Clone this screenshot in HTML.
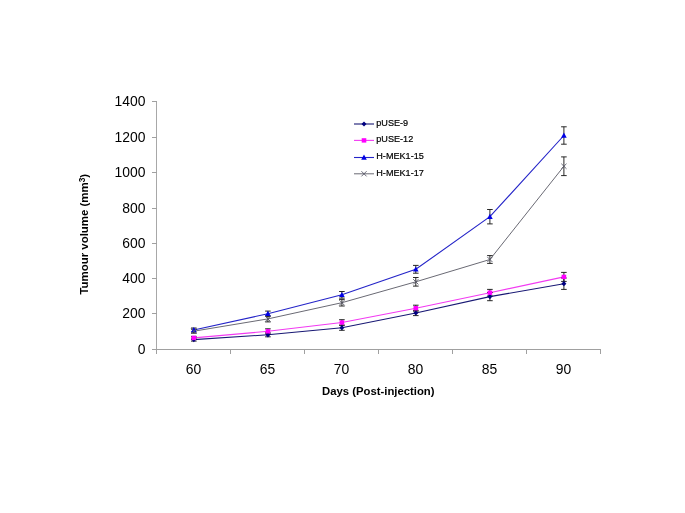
<!DOCTYPE html><html><head><meta charset="utf-8"><style>html,body{margin:0;padding:0;background:#fff;overflow:hidden}svg{display:block;will-change:transform}text{font-family:"Liberation Sans",sans-serif}</style></head><body>
<svg width="685" height="513" viewBox="0 0 685 513">
<rect width="685" height="513" fill="#fff"/>
<g stroke="#a0a0a0" stroke-width="1" fill="none" shape-rendering="crispEdges">
<line x1="156.5" y1="101" x2="156.5" y2="350" stroke="#a8a8a8"/>
<line x1="152" y1="349.5" x2="601" y2="349.5"/>
<line x1="152" y1="101.5" x2="157" y2="101.5"/>
<line x1="152" y1="137.5" x2="157" y2="137.5"/>
<line x1="152" y1="172.5" x2="157" y2="172.5"/>
<line x1="152" y1="208.5" x2="157" y2="208.5"/>
<line x1="152" y1="243.5" x2="157" y2="243.5"/>
<line x1="152" y1="278.5" x2="157" y2="278.5"/>
<line x1="152" y1="313.5" x2="157" y2="313.5"/>
<line x1="156.5" y1="349" x2="156.5" y2="353.6"/>
<line x1="230.5" y1="349" x2="230.5" y2="353.6"/>
<line x1="304.5" y1="349" x2="304.5" y2="353.6"/>
<line x1="378.5" y1="349" x2="378.5" y2="353.6"/>
<line x1="452.5" y1="349" x2="452.5" y2="353.6"/>
<line x1="526.5" y1="349" x2="526.5" y2="353.6"/>
<line x1="600.5" y1="349" x2="600.5" y2="353.6"/>
</g>
<text x="145.5" y="106.2" font-size="13.9" text-anchor="end" fill="#000">1400</text>
<text x="145.5" y="142.2" font-size="13.9" text-anchor="end" fill="#000">1200</text>
<text x="145.5" y="177.2" font-size="13.9" text-anchor="end" fill="#000">1000</text>
<text x="145.5" y="213.2" font-size="13.9" text-anchor="end" fill="#000">800</text>
<text x="145.5" y="248.2" font-size="13.9" text-anchor="end" fill="#000">600</text>
<text x="145.5" y="283.2" font-size="13.9" text-anchor="end" fill="#000">400</text>
<text x="145.5" y="318.2" font-size="13.9" text-anchor="end" fill="#000">200</text>
<text x="145.5" y="354.2" font-size="13.9" text-anchor="end" fill="#000">0</text>
<text x="193.5" y="373.5" font-size="13.9" text-anchor="middle" fill="#000">60</text>
<text x="267.5" y="373.5" font-size="13.9" text-anchor="middle" fill="#000">65</text>
<text x="341.5" y="373.5" font-size="13.9" text-anchor="middle" fill="#000">70</text>
<text x="415.5" y="373.5" font-size="13.9" text-anchor="middle" fill="#000">80</text>
<text x="489.5" y="373.5" font-size="13.9" text-anchor="middle" fill="#000">85</text>
<text x="563.5" y="373.5" font-size="13.9" text-anchor="middle" fill="#000">90</text>
<text x="378.3" y="394.7" font-size="11.3" font-weight="bold" text-anchor="middle" fill="#000">Days (Post-injection)</text>
<text transform="translate(87.75,294.6) rotate(-90)" font-size="11.45" font-weight="bold" text-anchor="start" fill="#000">Tumour volume (mm<tspan font-size="8.4" dy="-3.0" dx="0">3</tspan><tspan dy="3.0" dx="-0.1">)</tspan></text>
<polyline points="193.8,339.6 267.9,334.8 341.9,327.7 415.8,313.0 489.9,296.6 563.9,283.7" fill="none" stroke="#181874" stroke-width="1.1"/>
<polyline points="193.8,337.9 267.9,331.3 341.9,322.5 415.8,308.2 489.9,292.7 563.9,276.9" fill="none" stroke="#f23af2" stroke-width="1.1"/>
<polyline points="193.8,330.0 267.9,313.7 341.9,294.8 415.8,269.3 489.9,216.7 563.9,135.5" fill="none" stroke="#2424c8" stroke-width="1.1"/>
<polyline points="193.8,331.2 267.9,318.9 341.9,302.7 415.8,281.8 489.9,259.5 563.9,166.25" fill="none" stroke="#6a6a74" stroke-width="1.0"/>
<g stroke="#1c1c1c" stroke-width="0.95" fill="none">
<path d="M193.8 338.1V341.1M191.0 338.1H196.60000000000002M191.0 341.1H196.60000000000002"/>
<path d="M267.9 332.8V336.8M265.09999999999997 332.8H270.7M265.09999999999997 336.8H270.7"/>
<path d="M341.9 325.1V330.3M339.09999999999997 325.1H344.7M339.09999999999997 330.3H344.7"/>
<path d="M415.8 310.4V315.6M413.0 310.4H418.6M413.0 315.6H418.6"/>
<path d="M489.9 292.5V300.7M487.09999999999997 292.5H492.7M487.09999999999997 300.7H492.7"/>
<path d="M563.9 278.0V289.4M561.1 278.0H566.6999999999999M561.1 289.4H566.6999999999999"/>
</g>
<g stroke="#1c1c1c" stroke-width="0.95" fill="none">
<path d="M193.8 336.4V339.4M191.0 336.4H196.60000000000002M191.0 339.4H196.60000000000002"/>
<path d="M267.9 328.8V333.8M265.09999999999997 328.8H270.7M265.09999999999997 333.8H270.7"/>
<path d="M341.9 319.7V325.3M339.09999999999997 319.7H344.7M339.09999999999997 325.3H344.7"/>
<path d="M415.8 305.2V311.2M413.0 305.2H418.6M413.0 311.2H418.6"/>
<path d="M489.9 289.4V296.0M487.09999999999997 289.4H492.7M487.09999999999997 296.0H492.7"/>
<path d="M563.9 272.4V281.4M561.1 272.4H566.6999999999999M561.1 281.4H566.6999999999999"/>
</g>
<g stroke="#1c1c1c" stroke-width="0.95" fill="none">
<path d="M193.8 328.0V332.0M191.0 328.0H196.60000000000002M191.0 332.0H196.60000000000002"/>
<path d="M267.9 311.1V316.3M265.09999999999997 311.1H270.7M265.09999999999997 316.3H270.7"/>
<path d="M341.9 291.5V298.1M339.09999999999997 291.5H344.7M339.09999999999997 298.1H344.7"/>
<path d="M415.8 265.4V273.2M413.0 265.4H418.6M413.0 273.2H418.6"/>
<path d="M489.9 209.5V223.9M487.09999999999997 209.5H492.7M487.09999999999997 223.9H492.7"/>
<path d="M563.9 126.8V144.2M561.1 126.8H566.6999999999999M561.1 144.2H566.6999999999999"/>
</g>
<g stroke="#1c1c1c" stroke-width="0.95" fill="none">
<path d="M193.8 329.2V333.2M191.0 329.2H196.60000000000002M191.0 333.2H196.60000000000002"/>
<path d="M267.9 315.9V321.9M265.09999999999997 315.9H270.7M265.09999999999997 321.9H270.7"/>
<path d="M341.9 299.4V306.0M339.09999999999997 299.4H344.7M339.09999999999997 306.0H344.7"/>
<path d="M415.8 277.5V286.1M413.0 277.5H418.6M413.0 286.1H418.6"/>
<path d="M489.9 255.6V263.4M487.09999999999997 255.6H492.7M487.09999999999997 263.4H492.7"/>
<path d="M563.9 156.9V175.6M561.1 156.9H566.6999999999999M561.1 175.6H566.6999999999999"/>
</g>
<path d="M193.8 337.0L196.3 339.6L193.8 342.2L191.3 339.6Z" fill="#000080"/>
<path d="M267.9 332.2L270.4 334.8L267.9 337.4L265.4 334.8Z" fill="#000080"/>
<path d="M341.9 325.1L344.4 327.7L341.9 330.3L339.4 327.7Z" fill="#000080"/>
<path d="M415.8 310.4L418.3 313.0L415.8 315.6L413.3 313.0Z" fill="#000080"/>
<path d="M489.9 294.0L492.4 296.6L489.9 299.2L487.4 296.6Z" fill="#000080"/>
<path d="M563.9 281.1L566.4 283.7L563.9 286.3L561.4 283.7Z" fill="#000080"/>
<rect x="191.5" y="335.7" width="4.6" height="4.4" fill="#ff00ff"/>
<rect x="265.6" y="329.1" width="4.6" height="4.4" fill="#ff00ff"/>
<rect x="339.6" y="320.3" width="4.6" height="4.4" fill="#ff00ff"/>
<rect x="413.5" y="306.0" width="4.6" height="4.4" fill="#ff00ff"/>
<rect x="487.6" y="290.5" width="4.6" height="4.4" fill="#ff00ff"/>
<rect x="561.6" y="274.7" width="4.6" height="4.4" fill="#ff00ff"/>
<path d="M193.8 327.1L196.6 332.3L191.0 332.3Z" fill="#0000e6"/>
<path d="M267.9 310.8L270.7 316.0L265.1 316.0Z" fill="#0000e6"/>
<path d="M341.9 291.9L344.7 297.1L339.1 297.1Z" fill="#0000e6"/>
<path d="M415.8 266.4L418.6 271.6L413.0 271.6Z" fill="#0000e6"/>
<path d="M489.9 213.8L492.7 219.0L487.1 219.0Z" fill="#0000e6"/>
<path d="M563.9 132.6L566.7 137.8L561.1 137.8Z" fill="#0000e6"/>
<path d="M191.2 328.6L196.4 333.8M191.2 333.8L196.4 328.6" stroke="#5a5a6a" stroke-width="0.9" fill="none"/>
<path d="M265.3 316.3L270.5 321.5M265.3 321.5L270.5 316.3" stroke="#5a5a6a" stroke-width="0.9" fill="none"/>
<path d="M339.3 300.1L344.5 305.3M339.3 305.3L344.5 300.1" stroke="#5a5a6a" stroke-width="0.9" fill="none"/>
<path d="M413.2 279.2L418.4 284.4M413.2 284.4L418.4 279.2" stroke="#5a5a6a" stroke-width="0.9" fill="none"/>
<path d="M487.3 256.9L492.5 262.1M487.3 262.1L492.5 256.9" stroke="#5a5a6a" stroke-width="0.9" fill="none"/>
<path d="M561.3 163.7L566.5 168.8M561.3 168.8L566.5 163.7" stroke="#5a5a6a" stroke-width="0.9" fill="none"/>
<line x1="354" y1="124.0" x2="374" y2="124.0" stroke="#181874" stroke-width="1.1"/>
<path d="M364 121.4L366.5 124.0L364 126.6L361.5 124.0Z" fill="#000080"/>
<text x="376.3" y="125.7" font-size="9.1" fill="#000" stroke="#000" stroke-width="0.2">pUSE-9</text>
<line x1="354" y1="140.4" x2="374" y2="140.4" stroke="#f23af2" stroke-width="1.1"/>
<rect x="361.7" y="138.2" width="4.6" height="4.4" fill="#ff00ff"/>
<text x="376.3" y="142.4" font-size="9.1" fill="#000" stroke="#000" stroke-width="0.2">pUSE-12</text>
<line x1="354" y1="157.5" x2="374" y2="157.5" stroke="#2424c8" stroke-width="1.1"/>
<path d="M364 154.6L366.8 159.8L361.2 159.8Z" fill="#0000e6"/>
<text x="376.3" y="159.1" font-size="9.1" fill="#000" stroke="#000" stroke-width="0.2">H-MEK1-15</text>
<line x1="354" y1="173.8" x2="374" y2="173.8" stroke="#6a6a74" stroke-width="1.0"/>
<path d="M361.4 171.2L366.6 176.4M361.4 176.4L366.6 171.2" stroke="#5a5a6a" stroke-width="0.9" fill="none"/>
<text x="376.3" y="175.8" font-size="9.1" fill="#000" stroke="#000" stroke-width="0.2">H-MEK1-17</text>
</svg></body></html>
